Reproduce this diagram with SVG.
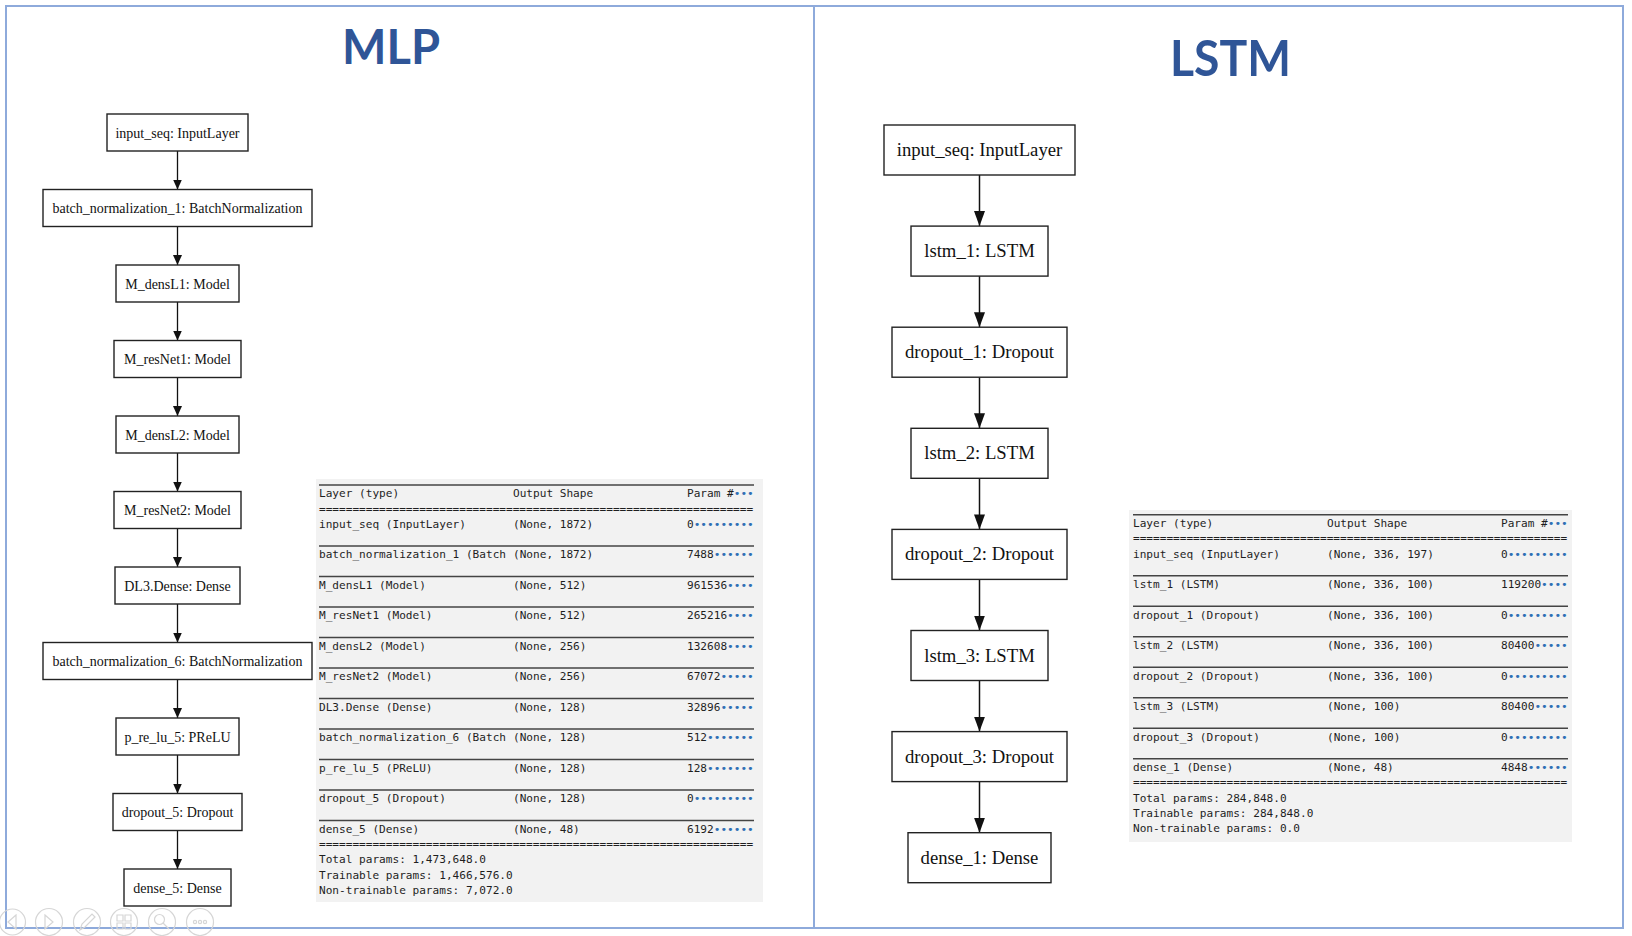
<svg xmlns="http://www.w3.org/2000/svg" width="1632" height="936" viewBox="0 0 1632 936">
<defs>
<style>
.frame{fill:none;stroke:#8eaadb;stroke-width:2}
.title{font-family:Lato,"Open Sans","Liberation Sans",sans-serif;font-weight:700;fill:#2f5597}
.box{fill:#ffffff;stroke:#222222;stroke-width:1.4}
.ms{font-family:"Liberation Serif","Times New Roman",serif;font-size:14px;fill:#111111;text-anchor:middle}
.ls{font-family:"Liberation Serif","Times New Roman",serif;font-size:18.7px;fill:#111111;text-anchor:middle}
.edge{stroke:#111111;fill:none}
.em{stroke-width:1.3}
.el{stroke-width:1.5}
.tbg{fill:#f2f2f2}
.tt{font-family:"DejaVu Sans Mono","Liberation Mono",monospace;font-size:11.1px;fill:#1e1e1e}
.dot{fill:#2f6fb5}
.rule{stroke:#444444;stroke-width:1.6}
.ico{fill:none;stroke:#d6d6d6;stroke-width:1.2}
</style>
<marker id="ahS" markerUnits="userSpaceOnUse" viewBox="0 0 10 9" markerWidth="10" markerHeight="9" refX="10" refY="4.5" orient="auto">
<path d="M0,0 L10,4.5 L0,9 z" fill="#111111"/>
</marker>
<marker id="ahL" markerUnits="userSpaceOnUse" viewBox="0 0 15 11" markerWidth="15" markerHeight="11" refX="15" refY="5.5" orient="auto">
<path d="M0,0 L15,5.5 L0,11 z" fill="#111111"/>
</marker>
</defs>
<rect width="1632" height="936" fill="#ffffff"/>
<g id="frame">
<rect class="frame" x="6" y="6" width="1617" height="922"/>
<line class="frame" x1="814" y1="6" x2="814" y2="928"/>
</g>
<text class="title" x="342" y="64" font-size="47.5" textLength="98" lengthAdjust="spacingAndGlyphs">MLP</text>
<text class="title" x="1170" y="76" font-size="50" textLength="121" lengthAdjust="spacingAndGlyphs">LSTM</text>

<g id="mlp-connectors">
<line class="edge em" x1="177.5" y1="151" x2="177.5" y2="189.5" marker-end="url(#ahS)"/>
<line class="edge em" x1="177.5" y1="226.5" x2="177.5" y2="265" marker-end="url(#ahS)"/>
<line class="edge em" x1="177.5" y1="302" x2="177.5" y2="340.5" marker-end="url(#ahS)"/>
<line class="edge em" x1="177.5" y1="377.5" x2="177.5" y2="416" marker-end="url(#ahS)"/>
<line class="edge em" x1="177.5" y1="453" x2="177.5" y2="491.5" marker-end="url(#ahS)"/>
<line class="edge em" x1="177.5" y1="528.5" x2="177.5" y2="567" marker-end="url(#ahS)"/>
<line class="edge em" x1="177.5" y1="604" x2="177.5" y2="642.5" marker-end="url(#ahS)"/>
<line class="edge em" x1="177.5" y1="679.5" x2="177.5" y2="718" marker-end="url(#ahS)"/>
<line class="edge em" x1="177.5" y1="755" x2="177.5" y2="793.5" marker-end="url(#ahS)"/>
<line class="edge em" x1="177.5" y1="830.5" x2="177.5" y2="869" marker-end="url(#ahS)"/>
</g>
<g id="m1"><rect class="box" x="107" y="114" width="141" height="37"/><text class="ms" x="177.5" y="137.5">input_seq: InputLayer</text></g>
<g id="m2"><rect class="box" x="43" y="189.5" width="269" height="37"/><text class="ms" x="177.5" y="213">batch_normalization_1: BatchNormalization</text></g>
<g id="m3"><rect class="box" x="116" y="265" width="123" height="37"/><text class="ms" x="177.5" y="288.5">M_densL1: Model</text></g>
<g id="m4"><rect class="box" x="114" y="340.5" width="127" height="37"/><text class="ms" x="177.5" y="364">M_resNet1: Model</text></g>
<g id="m5"><rect class="box" x="116" y="416" width="123" height="37"/><text class="ms" x="177.5" y="439.5">M_densL2: Model</text></g>
<g id="m6"><rect class="box" x="114" y="491.5" width="127" height="37"/><text class="ms" x="177.5" y="515">M_resNet2: Model</text></g>
<g id="m7"><rect class="box" x="115" y="567" width="125" height="37"/><text class="ms" x="177.5" y="590.5">DL3.Dense: Dense</text></g>
<g id="m8"><rect class="box" x="43" y="642.5" width="269" height="37"/><text class="ms" x="177.5" y="666">batch_normalization_6: BatchNormalization</text></g>
<g id="m9"><rect class="box" x="116" y="718" width="123" height="37"/><text class="ms" x="177.5" y="741.5">p_re_lu_5: PReLU</text></g>
<g id="m10"><rect class="box" x="113" y="793.5" width="129" height="37"/><text class="ms" x="177.5" y="817">dropout_5: Dropout</text></g>
<g id="m11"><rect class="box" x="124" y="869" width="107" height="37"/><text class="ms" x="177.5" y="892.5">dense_5: Dense</text></g>

<g id="lstm-connectors">
<line class="edge el" x1="979.5" y1="175" x2="979.5" y2="226.1" marker-end="url(#ahL)"/>
<line class="edge el" x1="979.5" y1="276.1" x2="979.5" y2="327.2" marker-end="url(#ahL)"/>
<line class="edge el" x1="979.5" y1="377.2" x2="979.5" y2="428.3" marker-end="url(#ahL)"/>
<line class="edge el" x1="979.5" y1="478.3" x2="979.5" y2="529.4" marker-end="url(#ahL)"/>
<line class="edge el" x1="979.5" y1="579.4" x2="979.5" y2="630.5" marker-end="url(#ahL)"/>
<line class="edge el" x1="979.5" y1="680.5" x2="979.5" y2="731.6" marker-end="url(#ahL)"/>
<line class="edge el" x1="979.5" y1="781.6" x2="979.5" y2="832.7" marker-end="url(#ahL)"/>
</g>
<g id="l1"><rect class="box" x="884" y="125" width="191" height="50"/><text class="ls" x="979.5" y="156">input_seq: InputLayer</text></g>
<g id="l2"><rect class="box" x="911" y="226.1" width="137" height="50"/><text class="ls" x="979.5" y="257.1">lstm_1: LSTM</text></g>
<g id="l3"><rect class="box" x="892" y="327.2" width="175" height="50"/><text class="ls" x="979.5" y="358.2">dropout_1: Dropout</text></g>
<g id="l4"><rect class="box" x="911" y="428.3" width="137" height="50"/><text class="ls" x="979.5" y="459.3">lstm_2: LSTM</text></g>
<g id="l5"><rect class="box" x="892" y="529.4" width="175" height="50"/><text class="ls" x="979.5" y="560.4">dropout_2: Dropout</text></g>
<g id="l6"><rect class="box" x="911" y="630.5" width="137" height="50"/><text class="ls" x="979.5" y="661.5">lstm_3: LSTM</text></g>
<g id="l7"><rect class="box" x="892" y="731.6" width="175" height="50"/><text class="ls" x="979.5" y="762.6">dropout_3: Dropout</text></g>
<g id="l8"><rect class="box" x="908" y="832.7" width="143" height="50"/><text class="ls" x="979.5" y="863.7">dense_1: Dense</text></g>

<g id="mlp-summary">
<rect class="tbg" x="316" y="479" width="447" height="423"/>
<line class="rule" x1="319" y1="485" x2="754" y2="485"/>
<text class="tt" y="497.25"><tspan x="319">Layer (type)</tspan><tspan x="513">Output Shape</tspan><tspan x="687">Param #</tspan><tspan class="dot">•••</tspan></text>
<text class="tt" x="319" y="512.5">=================================================================</text>
<text class="tt" y="527.75"><tspan x="319">input_seq (InputLayer)</tspan><tspan x="513">(None, 1872)</tspan><tspan x="687">0</tspan><tspan class="dot">•••••••••</tspan></text>
<line class="rule" x1="319" y1="546" x2="754" y2="546"/>
<text class="tt" y="558.25"><tspan x="319">batch_normalization_1 (Batch</tspan><tspan x="513">(None, 1872)</tspan><tspan x="687">7488</tspan><tspan class="dot">••••••</tspan></text>
<line class="rule" x1="319" y1="576.5" x2="754" y2="576.5"/>
<text class="tt" y="588.75"><tspan x="319">M_densL1 (Model)</tspan><tspan x="513">(None, 512)</tspan><tspan x="687">961536</tspan><tspan class="dot">••••</tspan></text>
<line class="rule" x1="319" y1="607" x2="754" y2="607"/>
<text class="tt" y="619.25"><tspan x="319">M_resNet1 (Model)</tspan><tspan x="513">(None, 512)</tspan><tspan x="687">265216</tspan><tspan class="dot">••••</tspan></text>
<line class="rule" x1="319" y1="637.5" x2="754" y2="637.5"/>
<text class="tt" y="649.75"><tspan x="319">M_densL2 (Model)</tspan><tspan x="513">(None, 256)</tspan><tspan x="687">132608</tspan><tspan class="dot">••••</tspan></text>
<line class="rule" x1="319" y1="668" x2="754" y2="668"/>
<text class="tt" y="680.25"><tspan x="319">M_resNet2 (Model)</tspan><tspan x="513">(None, 256)</tspan><tspan x="687">67072</tspan><tspan class="dot">•••••</tspan></text>
<line class="rule" x1="319" y1="698.5" x2="754" y2="698.5"/>
<text class="tt" y="710.75"><tspan x="319">DL3.Dense (Dense)</tspan><tspan x="513">(None, 128)</tspan><tspan x="687">32896</tspan><tspan class="dot">•••••</tspan></text>
<line class="rule" x1="319" y1="729" x2="754" y2="729"/>
<text class="tt" y="741.25"><tspan x="319">batch_normalization_6 (Batch</tspan><tspan x="513">(None, 128)</tspan><tspan x="687">512</tspan><tspan class="dot">•••••••</tspan></text>
<line class="rule" x1="319" y1="759.5" x2="754" y2="759.5"/>
<text class="tt" y="771.75"><tspan x="319">p_re_lu_5 (PReLU)</tspan><tspan x="513">(None, 128)</tspan><tspan x="687">128</tspan><tspan class="dot">•••••••</tspan></text>
<line class="rule" x1="319" y1="790" x2="754" y2="790"/>
<text class="tt" y="802.25"><tspan x="319">dropout_5 (Dropout)</tspan><tspan x="513">(None, 128)</tspan><tspan x="687">0</tspan><tspan class="dot">•••••••••</tspan></text>
<line class="rule" x1="319" y1="820.5" x2="754" y2="820.5"/>
<text class="tt" y="832.75"><tspan x="319">dense_5 (Dense)</tspan><tspan x="513">(None, 48)</tspan><tspan x="687">6192</tspan><tspan class="dot">••••••</tspan></text>
<text class="tt" x="319" y="848">=================================================================</text>
<text class="tt" x="319" y="863.25">Total params: 1,473,648.0</text>
<text class="tt" x="319" y="878.5">Trainable params: 1,466,576.0</text>
<text class="tt" x="319" y="893.75">Non-trainable params: 7,072.0</text>
</g>

<g id="lstm-summary">
<rect class="tbg" x="1129" y="510" width="443" height="332"/>
<line class="rule" x1="1133" y1="514.75" x2="1568" y2="514.75"/>
<text class="tt" y="527"><tspan x="1133">Layer (type)</tspan><tspan x="1327">Output Shape</tspan><tspan x="1501">Param #</tspan><tspan class="dot">•••</tspan></text>
<text class="tt" x="1133" y="542.25">=================================================================</text>
<text class="tt" y="557.5"><tspan x="1133">input_seq (InputLayer)</tspan><tspan x="1327">(None, 336, 197)</tspan><tspan x="1501">0</tspan><tspan class="dot">•••••••••</tspan></text>
<line class="rule" x1="1133" y1="575.75" x2="1568" y2="575.75"/>
<text class="tt" y="588"><tspan x="1133">lstm_1 (LSTM)</tspan><tspan x="1327">(None, 336, 100)</tspan><tspan x="1501">119200</tspan><tspan class="dot">••••</tspan></text>
<line class="rule" x1="1133" y1="606.25" x2="1568" y2="606.25"/>
<text class="tt" y="618.5"><tspan x="1133">dropout_1 (Dropout)</tspan><tspan x="1327">(None, 336, 100)</tspan><tspan x="1501">0</tspan><tspan class="dot">•••••••••</tspan></text>
<line class="rule" x1="1133" y1="636.75" x2="1568" y2="636.75"/>
<text class="tt" y="649"><tspan x="1133">lstm_2 (LSTM)</tspan><tspan x="1327">(None, 336, 100)</tspan><tspan x="1501">80400</tspan><tspan class="dot">•••••</tspan></text>
<line class="rule" x1="1133" y1="667.25" x2="1568" y2="667.25"/>
<text class="tt" y="679.5"><tspan x="1133">dropout_2 (Dropout)</tspan><tspan x="1327">(None, 336, 100)</tspan><tspan x="1501">0</tspan><tspan class="dot">•••••••••</tspan></text>
<line class="rule" x1="1133" y1="697.75" x2="1568" y2="697.75"/>
<text class="tt" y="710"><tspan x="1133">lstm_3 (LSTM)</tspan><tspan x="1327">(None, 100)</tspan><tspan x="1501">80400</tspan><tspan class="dot">•••••</tspan></text>
<line class="rule" x1="1133" y1="728.25" x2="1568" y2="728.25"/>
<text class="tt" y="740.5"><tspan x="1133">dropout_3 (Dropout)</tspan><tspan x="1327">(None, 100)</tspan><tspan x="1501">0</tspan><tspan class="dot">•••••••••</tspan></text>
<line class="rule" x1="1133" y1="758.75" x2="1568" y2="758.75"/>
<text class="tt" y="771"><tspan x="1133">dense_1 (Dense)</tspan><tspan x="1327">(None, 48)</tspan><tspan x="1501">4848</tspan><tspan class="dot">••••••</tspan></text>
<text class="tt" x="1133" y="786.25">=================================================================</text>
<text class="tt" x="1133" y="801.5">Total params: 284,848.0</text>
<text class="tt" x="1133" y="816.75">Trainable params: 284,848.0</text>
<text class="tt" x="1133" y="832">Non-trainable params: 0.0</text>
</g>

<g id="slide-controls">
<circle class="ico" cx="12.5" cy="922" r="13"/>
<path class="ico" d="M16,915 L8,922 L16,929 z"/>
<circle class="ico" cx="49" cy="922" r="13.5"/>
<path class="ico" d="M45,915 L53,922 L45,929 z"/>
<circle class="ico" cx="87" cy="922" r="13.5"/>
<path class="ico" d="M80,930 L82,924 L92,914 L95,917 L85,927 z"/>
<circle class="ico" cx="124" cy="922" r="13.5"/>
<path class="ico" d="M117,915 h6 v6 h-6 z M125,915 h6 v6 h-6 z M117,923 h6 v6 h-6 z M125,923 h6 v6 h-6 z"/>
<circle class="ico" cx="162" cy="922" r="13.5"/>
<circle class="ico" cx="159.5" cy="919.5" r="5"/>
<path class="ico" d="M163,923 L169,929"/>
<circle class="ico" cx="200" cy="922" r="13.5"/>
<circle class="ico" cx="195" cy="922" r="1.6"/>
<circle class="ico" cx="200" cy="922" r="1.6"/>
<circle class="ico" cx="205" cy="922" r="1.6"/>
</g>
</svg>
